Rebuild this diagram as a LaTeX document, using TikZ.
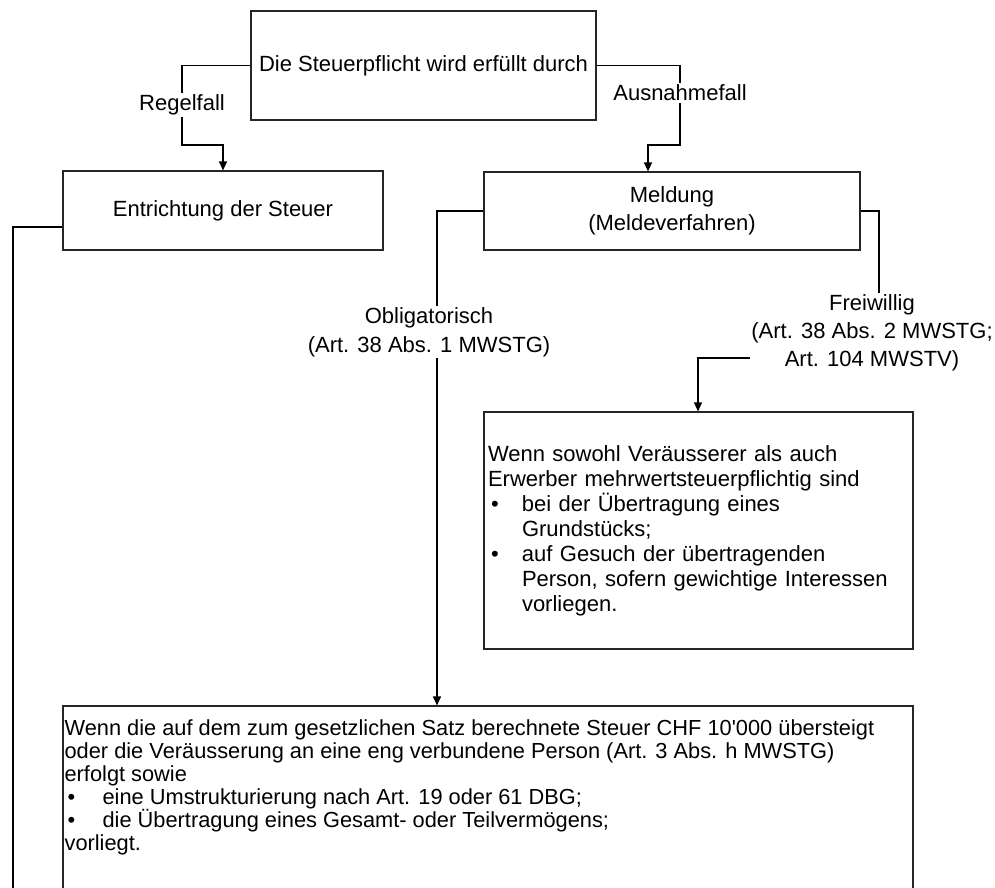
\documentclass[tikz,border=0pt]{standalone}
\usepackage{fontspec}
\setmainfont{Liberation Sans}
\usetikzlibrary{arrows.meta}
\newcommand\frbul{\makebox[34pt][l]{\hspace{3pt}•}}
\newcommand\frind{\hspace*{34pt}}
\newcommand\btbul{\makebox[38pt][l]{\hspace{3pt}•}}
\begin{document}
\begin{tikzpicture}[x=1pt,y=-1pt,
  every node/.style={font=\fontsize{22}{25}\selectfont},
  box/.style={draw=black!85, line width=1.2pt, rectangle, inner sep=0pt, align=center},
  lbl/.style={fill=white, inner sep=1.5pt, align=center},
  arr/.style={line width=1.2pt, -{Triangle[length=9pt,width=8pt]}},
  ln/.style={line width=1.2pt}]
\useasboundingbox (0,0) rectangle (995,887);
\clip (0,0) rectangle (995,887);

\node[box, minimum width=345pt, minimum height=109pt] (top) at (423.5,65.5) {Die Steuerpflicht wird erfüllt durch};
\node[box, minimum width=320pt, minimum height=79pt] (entr) at (223,210.5) {Entrichtung der Steuer};
\node[box, minimum width=376pt, minimum height=78pt, font=\fontsize{22}{28}\selectfont] (meld) at (672,211) {Meldung\\(Meldeverfahren)};
\node[box, minimum height=237pt, text width=421pt, align=left, inner xsep=4pt] (frei) at (698.5,530.5)
 {Wenn sowohl Veräusserer als auch\\Erwerber mehrwertsteuerpflichtig sind\\\frbul bei der Übertragung eines\\\frind Grundstücks;\\\frbul auf Gesuch der übertragenden\\\frind Person, sofern gewichtige Interessen\\\frind vorliegen.};
\node[box, minimum width=850pt, minimum height=200pt] (bot) at (488,806) {};
\node[anchor=north west, inner xsep=2pt, inner ysep=14pt, align=left, font=\fontsize{21.8}{23}\selectfont] (bottxt) at (bot.north west)
 {Wenn die auf dem zum gesetzlichen Satz berechnete Steuer CHF 10\textquotesingle 000 übersteigt\\oder die Veräusserung an eine eng verbundene Person (Art. 3 Abs. h MWSTG)\\erfolgt sowie\\\btbul eine Umstrukturierung nach Art. 19 oder 61 DBG;\\\btbul die Übertragung eines Gesamt- oder Teilvermögens;\\vorliegt.};

% Regelfall
\coordinate (cL) at (182,145);
\draw[arr] (top.west) -| (cL) -| (entr.north);
\node[lbl] (lr) at (182,105) {Regelfall};

% Ausnahmefall
\coordinate (cR) at (680,145);
\coordinate (cRa) at (648,145);
\draw[arr] (top.east) -| (cR) -- (cRa) -- (cRa |- meld.north);
\node[lbl] (la) at (680,93) {Ausnahmefall};

% Entrichtung left line
\coordinate (eL) at (13,227);
\coordinate (eB) at (13,900);
\draw[ln] (eL -| entr.west) -- (eL) -- (eB);

% Obligatorisch
\coordinate (oL) at (437,211);
\draw[arr] (meld.west) -| (oL |- bot.north);
\node[lbl, font=\fontsize{22}{29}\selectfont] (lo) at (429,332) {Obligatorisch\\(Art. 38 Abs. 1 MWSTG)};

% Freiwillig
\coordinate (fA) at (879,358);
\coordinate (fB) at (698,358);
\draw[arr] (meld.east) -| (fA) -- (fB) -- (fB |- frei.north);
\node[lbl, font=\fontsize{22}{28}\selectfont] (lf) at (872,333) {Freiwillig\\(Art. 38 Abs. 2 MWSTG;\\Art. 104 MWSTV)};
\end{tikzpicture}
\end{document}
